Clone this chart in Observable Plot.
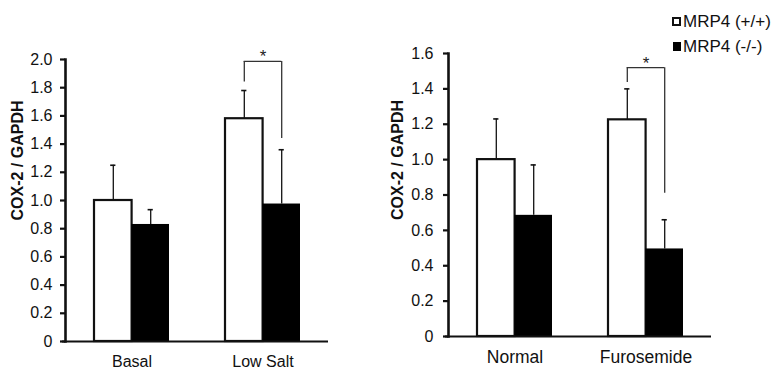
<!DOCTYPE html>
<html><head><meta charset="utf-8">
<script src="https://cdn.jsdelivr.net/npm/d3@7"></script>
<script src="https://cdn.jsdelivr.net/npm/@observablehq/plot@0.6"></script>
<style>
body{margin:0;background:#fff;}
#wrap{position:relative;width:774px;height:369px;overflow:hidden;background:#fff;font-family:"Liberation Sans",Arial,sans-serif;}
.panel{position:absolute;top:0;}
.leg{position:absolute;font-size:17px;color:#111;line-height:1;white-space:nowrap;}
.sw{position:absolute;box-sizing:border-box;}
</style></head><body><div id="wrap"></div>
<script>
// ---- data ----
const seriesNames = ["MRP4 (+/+)", "MRP4 (-/-)"];
const yTitle = "COX-2 / GAPDH";

const leftGroups = ["Basal", "Low Salt"];
const leftWT = [1.0, 1.58];
const leftWTErr = [0.25, 0.20];
const leftKO = [0.83, 0.975];
const leftKOErr = [0.105, 0.385];
const leftTicks = [0, 0.2, 0.4, 0.6, 0.8, 1.0, 1.2, 1.4, 1.6, 1.8, 2.0];
const leftSigGroup = ["Low Salt"];
const leftSigLevels = [1.84, 1.986, 1.44]; // left foot, bar, right foot
const leftSigStar = [2.02];

const rightGroups = ["Normal", "Furosemide"];
const rightWT = [1.0, 1.225];
const rightWTErr = [0.23, 0.175];
const rightKO = [0.685, 0.495];
const rightKOErr = [0.285, 0.165];
const rightTicks = [0, 0.2, 0.4, 0.6, 0.8, 1.0, 1.2, 1.4, 1.6];
const rightSigGroup = ["Furosemide"];
const rightSigLevels = [1.436, 1.52, 0.81];
const rightSigStar = [1.543];

const FONT = '"Liberation Sans", Arial, sans-serif';

function panel(o) {
  const width = 340, height = 369, mL = 65, mR = 12;
  const pi = 0.43, po = 0.217;
  const inner = width - mL - mR;
  const step = inner / (o.groups.length - pi + 2 * po);
  const bw = step * (1 - pi);
  const q = bw / 4, cap = 2.5;
  const rows = o.groups.map((g, i) => ({
    g, wt: o.wt[i], wtTop: o.wt[i] + o.wtErr[i], ko: o.ko[i], koTop: o.ko[i] + o.koErr[i]
  }));
  const sig = o.sigGroup.map((g, i) => ({
    g, foot1: o.sigLevels[0], top: o.sigLevels[1], foot2: o.sigLevels[2], star: o.sigStar[i]
  }));
  return Plot.plot({
    width, height, marginLeft: mL, marginRight: mR, marginTop: o.mt, marginBottom: o.mb,
    style: {fontFamily: FONT, fontSize: "16px", color: "#111", background: "transparent", overflow: "visible"},
    x: {domain: o.groups, paddingInner: pi, paddingOuter: po, label: null},
    y: {domain: [0, o.yMax], label: null},
    marks: [
      Plot.ruleX(rows, {x: "g", y1: "wt", y2: "wtTop", dx: -q, stroke: "#111", strokeWidth: 1.3}),
      Plot.ruleX(rows, {x: "g", y1: "ko", y2: "koTop", dx: q, stroke: "#111", strokeWidth: 1.3}),
      Plot.tickY(rows, {x: "g", y: "wtTop", insetLeft: q - cap, insetRight: 3 * q - cap, stroke: "#111", strokeWidth: 1.6}),
      Plot.tickY(rows, {x: "g", y: "koTop", insetLeft: 3 * q - cap, insetRight: q - cap, stroke: "#111", strokeWidth: 1.6}),
      Plot.barY(rows, {x: "g", y: "wt", insetRight: bw / 2, fill: "white", stroke: "#111", strokeWidth: 2.2}),
      Plot.barY(rows, {x: "g", y: "ko", insetLeft: bw / 2, fill: "#000"}),
      Plot.ruleX(sig, {x: "g", y1: "foot1", y2: "top", dx: -q, stroke: "#333", strokeWidth: 1.3}),
      Plot.ruleX(sig, {x: "g", y1: "foot2", y2: "top", dx: q, stroke: "#333", strokeWidth: 1.3}),
      Plot.tickY(sig, {x: "g", y: "top", insetLeft: q, insetRight: q, stroke: "#333", strokeWidth: 1.3}),
      Plot.text(sig, {x: "g", y: "star", text: () => "*", fontSize: 17, fill: "#222"}),
      Plot.ruleY([0], {stroke: "#111", strokeWidth: 2.2, insetLeft: -3}),
      Plot.frame({anchor: "left", stroke: "#111", strokeWidth: 2.6}),
      Plot.axisY({ticks: o.ticks, tickSize: 5, tickPadding: o.tp, label: null, stroke: "#111", strokeWidth: 2.2,
        tickFormat: d => d === 0 ? "0" : d.toFixed(1), fontSize: 16, fill: "#111"}),
      Plot.axisX({tickSize: 0, tickPadding: 14, label: null, fontSize: o.xFont, fill: "#111"}),
      Plot.text([yTitle], {frameAnchor: "left", rotate: -90, dx: o.tdx, dy: o.tdy, fontWeight: "bold", fontSize: 16, fill: "#111"})
    ]
  });
}

const wrap = document.getElementById("wrap");
const left = panel({groups: leftGroups, wt: leftWT, wtErr: leftWTErr, ko: leftKO, koErr: leftKOErr,
  ticks: leftTicks, yMax: 2.0, mt: 59, mb: 28, tp: 8, xFont: 16,
  sigGroup: leftSigGroup, sigLevels: leftSigLevels, sigStar: leftSigStar, tdx: -48, tdy: 20});
left.classList.add("panel"); left.style.left = "0px";
wrap.appendChild(left);

const right = panel({groups: rightGroups, wt: rightWT, wtErr: rightWTErr, ko: rightKO, koErr: rightKOErr,
  ticks: rightTicks, yMax: 1.6, mt: 53, mb: 33, tp: 10, xFont: 17.5,
  sigGroup: rightSigGroup, sigLevels: rightSigLevels, sigStar: rightSigStar, tdx: -51, tdy: 25});
right.classList.add("panel"); right.style.left = "383px";
wrap.appendChild(right);

// legend
const legY = [21, 46];
seriesNames.forEach((name, i) => {
  const sw = document.createElement("div");
  sw.className = "sw";
  if (i === 0) {
    Object.assign(sw.style, {left: "672px", top: (legY[i] - 4) + "px", width: "9px", height: "9px", border: "2px solid #111", background: "#fff"});
  } else {
    Object.assign(sw.style, {left: "673px", top: (legY[i] - 4) + "px", width: "8px", height: "9px", background: "#000"});
  }
  wrap.appendChild(sw);
  const t = document.createElement("div");
  t.className = "leg";
  t.textContent = name;
  t.style.left = "683px";
  t.style.top = (legY[i] - 8.3) + "px";
  wrap.appendChild(t);
});
</script></body></html>
